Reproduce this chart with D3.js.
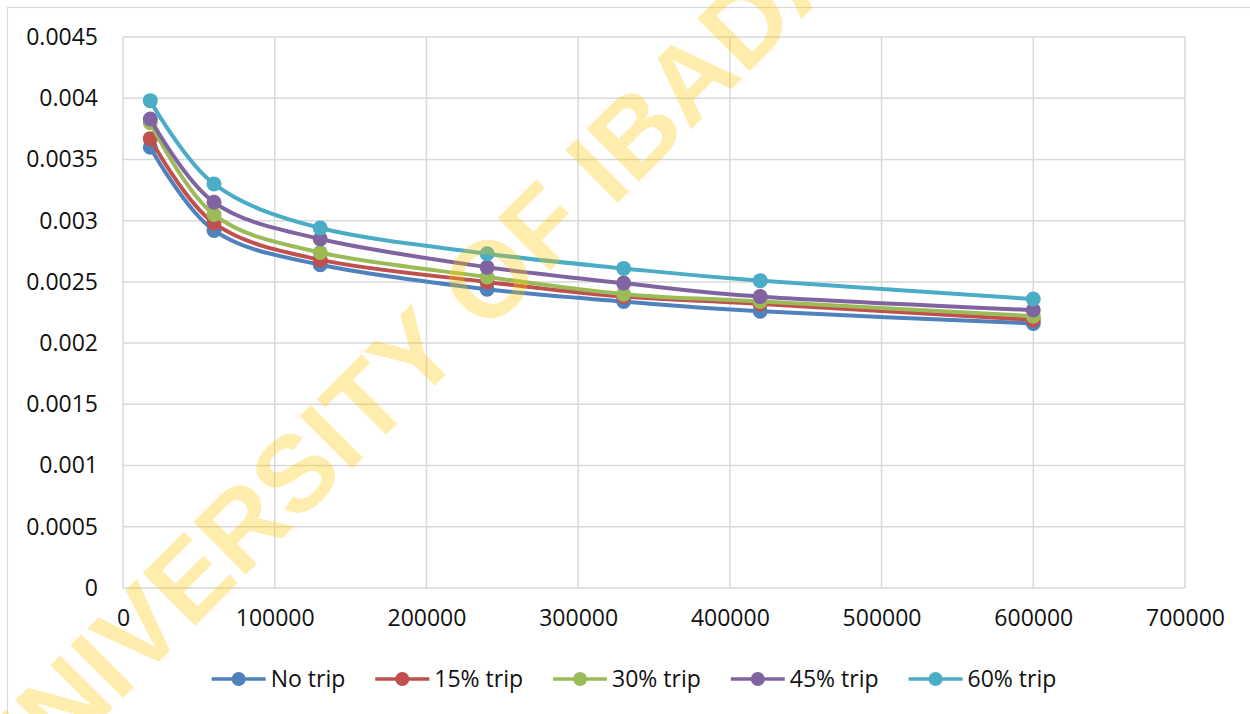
<!DOCTYPE html>
<html>
<head>
<meta charset="utf-8">
<script src="https://cdn.jsdelivr.net/npm/d3@7"></script>
<style>
  html, body { margin: 0; padding: 0; background: #fff; }
  svg { display: block; }
</style>
</head>
<body>
<svg id="chart" width="1250" height="714"></svg>
<script>
// x positions shared by every series
const xValues = [18000, 60000, 130000, 240000, 330000, 420000, 600000];

// series values
const noTrip   = [0.00360, 0.00292, 0.00264, 0.00244, 0.00234, 0.00226, 0.00216];
const trip15   = [0.00367, 0.00298, 0.00268, 0.00250, 0.00238, 0.00232, 0.00219];
const trip30   = [0.00380, 0.00305, 0.00274, 0.00254, 0.00240, 0.00234, 0.00222];
const trip45   = [0.00383, 0.00315, 0.00285, 0.00262, 0.00249, 0.00238, 0.00227];
const trip60   = [0.00398, 0.00330, 0.00294, 0.00273, 0.00261, 0.00251, 0.00236];

const seriesNames  = ["No trip", "15% trip", "30% trip", "45% trip", "60% trip"];
const seriesColors = ["#4F81BD", "#C0504D", "#9BBB59", "#8064A2", "#4BACC6"];
const seriesValues = [noTrip, trip15, trip30, trip45, trip60];

// axis ticks
const xTicks = [0, 100000, 200000, 300000, 400000, 500000, 600000, 700000];
const yTicks = [0, 0.0005, 0.001, 0.0015, 0.002, 0.0025, 0.003, 0.0035, 0.004, 0.0045];
const yTickLabels = ["0", "0.0005", "0.001", "0.0015", "0.002", "0.0025", "0.003", "0.0035", "0.004", "0.0045"];

const watermark = "UNIVERSITY OF IBADAN";

const svg = d3.select("#chart");
const W = 1250, H = 714;
const plot = { left: 123, top: 37, right: 1185, bottom: 588 };
const font = "'Open Sans', sans-serif";

// outer chart frame
svg.append("rect")
  .attr("x", 7.5).attr("y", 7.5)
  .attr("width", W).attr("height", H)
  .attr("fill", "#fff")
  .attr("stroke", "#d9d9d9").attr("stroke-width", 1.2);

const x = d3.scaleLinear().domain([0, 700000]).range([plot.left, plot.right]);
const y = d3.scaleLinear().domain([0, 0.0045]).range([plot.bottom, plot.top]);

// gridlines
const grid = svg.append("g");
grid.selectAll("line.h").data(yTicks).join("line")
  .attr("x1", plot.left).attr("x2", plot.right)
  .attr("y1", d => y(d)).attr("y2", d => y(d))
  .attr("stroke", "#d9d9d9").attr("stroke-width", 1.5);
grid.selectAll("line.v").data(xTicks).join("line")
  .attr("y1", plot.top).attr("y2", plot.bottom)
  .attr("x1", d => x(d)).attr("x2", d => x(d))
  .attr("stroke", "#d9d9d9").attr("stroke-width", 1.5);

// y axis labels
const yAxis = d3.axisLeft(y).tickValues(yTicks)
  .tickFormat((d, i) => yTickLabels[i]).tickSize(0).tickPadding(25);
const gy = svg.append("g").attr("transform", `translate(${plot.left},0)`).call(yAxis);
gy.select(".domain").remove();
gy.selectAll("text").attr("font-family", font).attr("font-size", 23).attr("fill", "#111");

// x axis labels
const xAxis = d3.axisBottom(x).tickValues(xTicks)
  .tickFormat(d => String(d)).tickSize(0).tickPadding(22);
const gx = svg.append("g").attr("transform", `translate(0,${plot.bottom})`).call(xAxis);
gx.select(".domain").remove();
gx.selectAll("text").attr("font-family", font).attr("font-size", 23).attr("fill", "#111");

// smoothed series lines with round markers
const line = d3.line()
  .x((d, i) => x(xValues[i]))
  .y(d => y(d))
  .curve(d3.curveCardinal.tension(0));

seriesValues.forEach((vals, s) => {
  const g = svg.append("g");
  g.append("path").attr("d", line(vals))
    .attr("fill", "none").attr("stroke", seriesColors[s])
    .attr("stroke-width", 4).attr("stroke-linejoin", "round");
  g.selectAll("circle").data(vals).join("circle")
    .attr("cx", (d, i) => x(xValues[i])).attr("cy", d => y(d))
    .attr("r", 7.5).attr("fill", seriesColors[s]);
});

// legend
const legend = svg.append("g");
let lx = 0;
const lineLen = 54, gapText = 5, gapItem = 30, ly = 679;
seriesNames.forEach((name, s) => {
  const item = legend.append("g").attr("transform", `translate(${lx},0)`);
  item.append("line").attr("x1", 0).attr("x2", lineLen).attr("y1", ly).attr("y2", ly)
    .attr("stroke", seriesColors[s]).attr("stroke-width", 3.5);
  item.append("circle").attr("cx", lineLen / 2).attr("cy", ly).attr("r", 7)
    .attr("fill", seriesColors[s]);
  const t = item.append("text").attr("x", lineLen + gapText).attr("y", ly)
    .attr("dy", "0.35em").attr("font-family", font).attr("font-size", 23)
    .attr("fill", "#111").text(name);
  lx += lineLen + gapText + t.node().getComputedTextLength() + gapItem;
});
const legendWidth = lx - gapItem;
legend.attr("transform", `translate(${634 - legendWidth / 2},0)`);

// diagonal watermark drawn over the chart
const wmSize = 108;
svg.append("g")
  .attr("transform", "translate(188,578) rotate(-45)")
  .append("text")
  .attr("x", -2.722 * wmSize).attr("y", 0.358 * wmSize)
  .attr("font-family", "'Liberation Sans', Arial, sans-serif")
  .attr("font-weight", "bold").attr("font-size", wmSize)
  .attr("fill", "rgb(253,200,0)").attr("fill-opacity", 0.32)
  .text(watermark);
</script>
</body>
</html>
